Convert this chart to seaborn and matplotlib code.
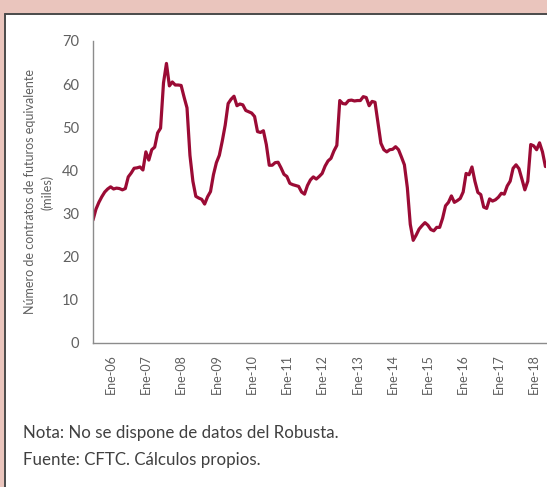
import matplotlib
matplotlib.use("Agg")
import matplotlib.pyplot as plt
import seaborn as sns
import pandas as pd
from matplotlib.patches import Rectangle
from matplotlib.lines import Line2D

# Monthly series, Jul-2005 .. May-2018 (thousands of equivalent futures contracts)
values = [
    28.5, 31.0, 32.6, 33.9, 35.0, 35.7, 36.2, 35.7, 35.9, 35.8, 35.5, 35.8,
    38.5, 39.4, 40.5, 40.6, 40.8, 40.1, 44.3, 42.4, 44.8, 45.4, 48.7, 49.8,
    60.3, 64.8, 59.6, 60.5, 59.8, 59.8, 59.7, 57.0, 54.5, 43.5, 37.5, 34.0,
    33.6, 33.3, 32.2, 33.9, 35.1, 39.0, 41.8, 43.5, 46.8, 50.5, 55.5, 56.5,
    57.2, 55.0, 55.4, 55.2, 53.9, 53.6, 53.3, 52.5, 49.0, 48.8, 49.2, 46.0,
    41.2, 41.2, 41.8, 41.9, 40.6, 39.1, 38.6, 37.0, 36.7, 36.5, 36.3, 35.0,
    34.5, 36.5, 37.8, 38.5, 38.0, 38.6, 39.3, 41.0, 42.2, 42.8, 44.5, 45.8,
    56.2, 55.5, 55.4, 56.2, 56.3, 56.1, 56.2, 56.2, 57.1, 56.9, 55.0, 56.0,
    55.8, 51.0, 46.3, 44.8, 44.3, 44.8, 44.9, 45.5, 44.8, 43.1, 41.3, 36.0,
    27.5, 23.8, 25.0, 26.4, 27.2, 27.9, 27.3, 26.3, 26.0, 26.8, 26.8, 28.9,
    31.8, 32.6, 34.1, 32.6, 33.0, 33.5, 35.0, 39.3, 39.0, 40.8, 37.5, 34.9,
    34.4, 31.5, 31.2, 33.4, 32.9, 33.2, 33.8, 34.7, 34.5, 36.4, 37.5, 40.5,
    41.3, 40.4, 38.0, 35.5, 37.5, 46.0, 45.7, 44.8, 46.4, 44.3, 40.9,
]
month_index = list(range(len(values)))
tick_positions = [6 + 12 * i for i in range(13)]
tick_labels = ["Ene-%02d" % y for y in range(6, 19)]
y_ticks = [0, 10, 20, 30, 40, 50, 60, 70]

df = pd.DataFrame({"m": month_index, "v": values})

sns.set_theme(style="white")
plt.rcParams["font.family"] = ["Lato", "DejaVu Sans"]

W, H = 547, 487
fig = plt.figure(figsize=(W / 100, H / 100), dpi=100)
fig.patch.set_facecolor("#EAC5BD")

# white panel with dark border on left/top
fig.patches.append(Rectangle((5 / W, 0), 1 - 5 / W, 1 - 13.5 / H, transform=fig.transFigure,
                             facecolor="white", edgecolor="none", zorder=-10))
fig.lines.append(Line2D([5 / W, 1], [1 - 13.5 / H, 1 - 13.5 / H], transform=fig.transFigure,
                        color="#4a4a4a", lw=1.4, zorder=-9))
fig.lines.append(Line2D([5 / W, 5 / W], [0, 1 - 13.5 / H], transform=fig.transFigure,
                        color="#4a4a4a", lw=1.4, zorder=-9))

ax = fig.add_axes([93 / W, 1 - 343 / H, (546 - 93) / W, (343 - 41) / H])
ax.set_zorder(5)
ax.set_facecolor("none")
sns.lineplot(data=df, x="m", y="v", ax=ax, color="#9B0B35", lw=2.3)

ax.set_xlim(0, 154.2)
ax.set_ylim(0, 70)
ax.set_yticks(y_ticks)
ax.set_yticklabels([str(t) for t in y_ticks], fontsize=10.5, color="#606060")
ax.set_xticks(tick_positions)
ax.set_xticklabels(tick_labels, rotation=90, fontsize=9, color="#606060")
ax.tick_params(axis="y", length=0, pad=10)
ax.tick_params(axis="x", length=0, pad=8)
for s in ["top", "right"]:
    ax.spines[s].set_visible(False)
for s in ["left", "bottom"]:
    ax.spines[s].set_color("#8c8c8c")
    ax.spines[s].set_linewidth(1.0)
ax.set_xlabel("")
ax.set_ylabel("Número de contratos de futuros equivalente\n(miles)", fontsize=9,
              color="#606060", labelpad=6, linespacing=1.45)

fig.text(23 / W, 1 - 433 / H, "Nota: No se dispone de datos del Robusta.", fontsize=12.2,
         color="#404040", va="center", ha="left")
fig.text(23 / W, 1 - 460 / H, "Fuente: CFTC. Cálculos propios.", fontsize=12.2,
         color="#404040", va="center", ha="left")

fig.savefig("out.png", dpi=100, facecolor=fig.get_facecolor())
